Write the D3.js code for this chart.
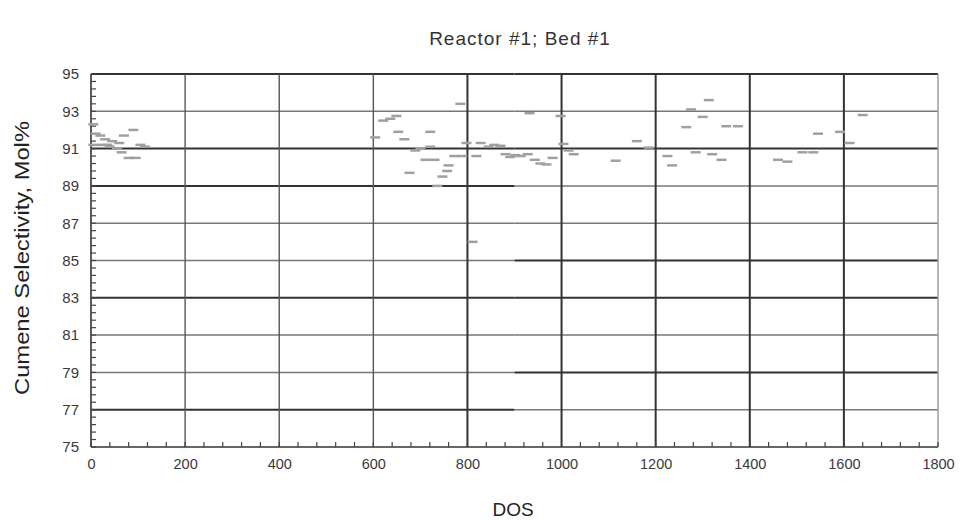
<!DOCTYPE html>
<html>
<head>
<meta charset="utf-8">
<script src="https://cdn.jsdelivr.net/npm/d3@7"></script>
<style>
  html, body { margin: 0; padding: 0; background: #fff; }
  svg { display: block; font-family: "Liberation Sans", Arial, sans-serif; }
</style>
</head>
<body>
<svg id="chart" width="966" height="521"></svg>
<script>
// ---- data ----
const title = "Reactor #1; Bed #1";
const xLabel = "DOS";
const yLabel = "Cumene Selectivity, Mol%";
const xTicks = [0, 200, 400, 600, 800, 1000, 1200, 1400, 1600, 1800];
const yTicks = [75, 77, 79, 81, 83, 85, 87, 89, 91, 93, 95];
const dos = [
  5, 10, 20, 30, 45, 60, 70, 90, 5, 25, 35, 40, 55, 65, 80, 95, 105, 115,
  604, 621, 636, 649, 653, 666, 677, 689, 700, 711, 721, 721, 730, 736, 747, 757, 760,
  772, 785, 789, 798, 811, 819, 828, 845, 857, 870, 881, 891, 902, 913, 928, 932,
  943, 955, 968, 981, 998, 1004, 1015, 1026,
  1115, 1160, 1185, 1225, 1235, 1265, 1275, 1285, 1300, 1313, 1320, 1340, 1350, 1375,
  1460, 1480, 1512, 1535, 1545, 1592, 1612, 1640
];
const selectivity = [
  92.3, 91.8, 91.7, 91.5, 91.4, 91.3, 91.7, 92.0, 91.2, 91.2, 91.2, 91.1, 91.0, 90.8, 90.5, 90.5, 91.2, 91.1,
  91.6, 92.5, 92.6, 92.75, 91.9, 91.5, 89.7, 90.9, 91.0, 90.4, 91.1, 91.9, 90.4, 89.0, 89.5, 89.8, 90.1,
  90.6, 93.4, 90.6, 91.3, 86.0, 90.6, 91.3, 91.1, 91.2, 91.15, 90.7, 90.55, 90.65, 90.6, 90.7, 92.9,
  90.4, 90.2, 90.15, 90.5, 92.75, 91.25, 90.9, 90.7,
  90.35, 91.4, 91.05, 90.6, 90.1, 92.15, 93.1, 90.8, 92.7, 93.6, 90.7, 90.4, 92.2, 92.2,
  90.4, 90.3, 90.8, 90.8, 91.8, 91.9, 91.3, 92.8
];
const points = dos.map((d, i) => ({ x: d, y: selectivity[i] }));

// ---- layout ----
const svg = d3.select("#chart");
const pLeft = 91, pRight = 938, pTop = 74, pBottom = 447;
const x = d3.scaleLinear().domain([0, 1800]).range([pLeft, pRight]);
const y = d3.scaleLinear().domain([75, 95]).range([pBottom, pTop]);

const darkV = new Set([800, 1000, 1200, 1400, 1600]);
// scanned look: some horizontal lines darker on the left half, others on the right half
const darkLeft = new Set([95, 91, 89, 83, 77]);
const darkRight = new Set([95, 91, 85, 83, 79]);
const split = 900;

const hSegs = [];
yTicks.filter(t => t !== 75).forEach(t => {
  hSegs.push({ v: t, a: 0, b: split, dark: darkLeft.has(t) });
  hSegs.push({ v: t, a: split, b: 1800, dark: darkRight.has(t) });
});

// horizontal grid
svg.append("g").selectAll("line")
  .data(hSegs)
  .join("line")
  .attr("x1", d => x(d.a)).attr("x2", d => x(d.b))
  .attr("y1", d => y(d.v)).attr("y2", d => y(d.v))
  .attr("stroke", d => d.dark ? "#333" : "#777")
  .attr("stroke-width", d => d.dark ? 2 : 1.5);

// vertical grid
svg.append("g").selectAll("line")
  .data(xTicks.filter(t => t !== 0))
  .join("line")
  .attr("x1", d => x(d)).attr("x2", d => x(d))
  .attr("y1", pTop).attr("y2", pBottom)
  .attr("stroke", d => darkV.has(d) ? "#333" : (d === 1800 ? "#999" : "#555"))
  .attr("stroke-width", d => darkV.has(d) ? 2 : 1.4);

// axes lines
svg.append("line").attr("x1", pLeft).attr("x2", pLeft).attr("y1", pTop).attr("y2", pBottom)
  .attr("stroke", "#333").attr("stroke-width", 1.6);
svg.append("line").attr("x1", pLeft).attr("x2", pRight).attr("y1", pBottom).attr("y2", pBottom)
  .attr("stroke", "#333").attr("stroke-width", 1.6);

// minor ticks (inward)
const yMinor = d3.range(75, 95.001, 0.4);
svg.append("g").selectAll("line").data(yMinor).join("line")
  .attr("x1", pLeft).attr("x2", pLeft + 5)
  .attr("y1", d => y(d)).attr("y2", d => y(d))
  .attr("stroke", "#444").attr("stroke-width", 1.2);
const xMinor = d3.range(0, 1800.001, 40);
svg.append("g").selectAll("line").data(xMinor).join("line")
  .attr("x1", d => x(d)).attr("x2", d => x(d))
  .attr("y1", pBottom).attr("y2", pBottom - 5)
  .attr("stroke", "#444").attr("stroke-width", 1.2);

// tick labels
const yAxis = d3.axisLeft(y).tickValues(yTicks).tickSize(0).tickPadding(12).tickFormat(d3.format("d"));
const gy = svg.append("g").attr("transform", `translate(${pLeft},0)`).call(yAxis);
gy.select(".domain").remove();
gy.selectAll("text").attr("font-size", 15).attr("fill", "#3a3a3a")
  .attr("font-family", "Liberation Sans, Arial, sans-serif");

const xAxis = d3.axisBottom(x).tickValues(xTicks).tickSize(0).tickPadding(12).tickFormat(d3.format("d"));
const gx = svg.append("g").attr("transform", `translate(0,${pBottom})`).call(xAxis);
gx.select(".domain").remove();
gx.selectAll("text").attr("font-size", 14.5).attr("fill", "#3a3a3a")
  .attr("font-family", "Liberation Sans, Arial, sans-serif");

// data marks: short horizontal dashes
svg.append("g").selectAll("rect").data(points).join("rect")
  .attr("x", d => x(d.x) - 5)
  .attr("y", d => y(d.y) - 1.25)
  .attr("width", 10).attr("height", 2.5)
  .attr("fill", "#a0a0a0");

// titles
svg.append("text").attr("x", 520).attr("y", 45).attr("text-anchor", "middle")
  .attr("font-size", 19).attr("letter-spacing", 1).attr("fill", "#333").text(title);
svg.append("text").attr("x", 513).attr("y", 516).attr("text-anchor", "middle")
  .attr("font-size", 19).attr("fill", "#222").text(xLabel);
svg.append("text").attr("transform", "translate(29,258) rotate(-90) scale(1.25,1.05)")
  .attr("text-anchor", "middle").attr("font-size", 19).attr("fill", "#222").text(yLabel);
</script>
</body>
</html>
